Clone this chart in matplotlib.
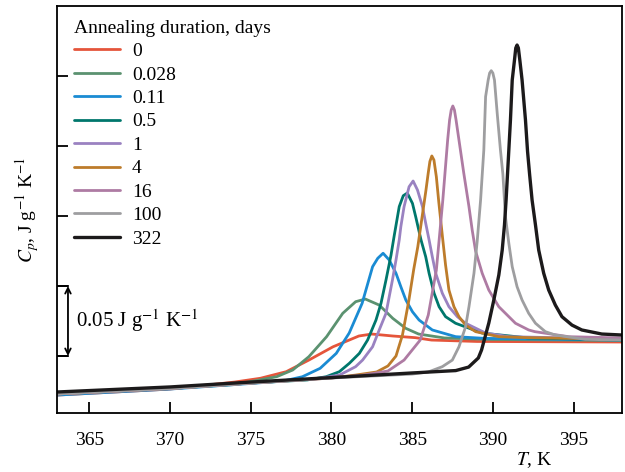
import matplotlib
matplotlib.use("Agg")
import matplotlib.pyplot as plt

plt.rcParams['font.family'] = ['Liberation Serif', 'DejaVu Serif']
plt.rcParams['mathtext.fontset'] = 'stix'

labels = ["0", "0.028", "0.11", "0.5", "1", "4", "16", "100", "322"]
colors = ["#e5553b", "#5b9270", "#1a8bd3", "#00776c", "#9a82c1", "#bd7c2b", "#ae7ba3", "#9e9ea0", "#1c1a1b"]

T_0 = [363, 370, 374, 375.6, 377.2, 378.6, 380.1, 381.1, 381.7, 382.5, 383.8, 385.2, 386.2, 389, 398]
C_0 = [0.0221, 0.0264, 0.0314, 0.0341, 0.0388, 0.0471, 0.0566, 0.0614, 0.0643, 0.0657, 0.0643, 0.0631, 0.0614, 0.0604, 0.0600]

T_0028 = [363, 370, 374, 376.6, 377.6, 378.6, 379.7, 380.7, 381.5, 382.1, 382.96, 383.8, 384.6, 385.4, 387.0, 390, 398]
C_0028 = [0.0229, 0.0268, 0.0296, 0.0352, 0.0400, 0.0495, 0.0638, 0.0805, 0.0888, 0.0907, 0.0864, 0.0769, 0.0698, 0.0657, 0.0629, 0.0618, 0.0611]

T_011 = [363, 370, 375, 377, 378.2, 379.3, 380.3, 381.1, 381.9, 382.55, 382.87, 383.2, 383.58, 384.0, 384.3, 384.61, 385.02, 385.43, 386.25, 387.7, 389.5, 398]
C_011 = [0.0221, 0.0264, 0.0304, 0.0321, 0.0352, 0.0412, 0.0519, 0.0664, 0.0876, 0.1138, 0.1198, 0.1234, 0.1186, 0.1091, 0.0995, 0.0900, 0.0816, 0.0757, 0.0686, 0.0638, 0.0626, 0.0614]

T_05 = [363, 370, 375, 378.5, 379.67, 380.49, 381.11, 381.73, 382.24, 382.76, 383.07, 383.38, 383.69, 383.89, 384.2, 384.45, 384.7, 385.02, 385.22, 385.55, 385.84, 386.05, 386.36, 386.67, 387.07, 387.69, 389.34, 392.2, 398]
C_05 = [0.0229, 0.0268, 0.0307, 0.0329, 0.0352, 0.0388, 0.0448, 0.0519, 0.0614, 0.0757, 0.0876, 0.1043, 0.1220, 0.1360, 0.1567, 0.1645, 0.1664, 0.1590, 0.1495, 0.1329, 0.1209, 0.1091, 0.0948, 0.0852, 0.0781, 0.0734, 0.0664, 0.0629, 0.0614]

T_1 = [363, 370, 375, 379, 380.5, 381.5, 381.93, 382.55, 382.96, 383.38, 383.78, 384.0, 384.2, 384.3, 384.5, 384.81, 385.06, 385.33, 385.64, 385.84, 386.05, 386.25, 386.46, 386.87, 387.28, 387.8, 388.31, 389.55, 391.0, 398]
C_1 = [0.0229, 0.0268, 0.0307, 0.0336, 0.0364, 0.0424, 0.0471, 0.0566, 0.0686, 0.0805, 0.1043, 0.1186, 0.1329, 0.1424, 0.1567, 0.1709, 0.1750, 0.1686, 0.1567, 0.1448, 0.1329, 0.1209, 0.1091, 0.0948, 0.0852, 0.0781, 0.0734, 0.0664, 0.0638, 0.0621]

T_4 = [363, 370, 375, 380, 381.5, 382.8, 383.5, 384.0, 384.4, 384.8, 385.1, 385.35, 385.6, 385.85, 386.0, 386.1, 386.22, 386.35, 386.5, 386.65, 386.87, 387.07, 387.28, 387.59, 387.9, 388.31, 388.93, 390.37, 392.22, 398]
C_4 = [0.0229, 0.0268, 0.0307, 0.0343, 0.0364, 0.0386, 0.0429, 0.0500, 0.0650, 0.0900, 0.1120, 0.1280, 0.1480, 0.1680, 0.1810, 0.1890, 0.1929, 0.1900, 0.1780, 0.1600, 0.1360, 0.1150, 0.0971, 0.0852, 0.0781, 0.0721, 0.0674, 0.0638, 0.0631, 0.0621]

T_16 = [363, 370, 375, 380, 382, 383.5, 384.5, 385.5, 386.0, 386.5, 386.9, 387.2, 387.32, 387.42, 387.52, 387.62, 387.72, 387.9, 388.2, 388.52, 388.72, 388.93, 389.34, 389.75, 390.37, 391.4, 392.22, 392.6, 394.7, 398]
C_16 = [0.0229, 0.0268, 0.0307, 0.0343, 0.0364, 0.0393, 0.0471, 0.0614, 0.0793, 0.1114, 0.1614, 0.2043, 0.2186, 0.2257, 0.2286, 0.2257, 0.2186, 0.2043, 0.1805, 0.1567, 0.1400, 0.1250, 0.1091, 0.0971, 0.0852, 0.0734, 0.0686, 0.0674, 0.0638, 0.0629]

T_100 = [363, 370, 375, 380, 385, 386.0, 386.87, 387.49, 387.9, 388.31, 388.52, 388.83, 389.03, 389.24, 389.44, 389.55, 389.71, 389.8, 389.9, 390.0, 390.1, 390.27, 390.47, 390.62, 390.78, 390.99, 391.2, 391.5, 391.81, 392.22, 392.64, 393.25, 393.87, 395.72, 398]
C_100 = [0.0229, 0.0268, 0.0307, 0.0343, 0.0371, 0.0386, 0.0424, 0.0471, 0.0566, 0.0709, 0.0852, 0.1091, 0.1320, 0.1614, 0.1971, 0.2352, 0.2471, 0.2521, 0.2538, 0.2521, 0.2471, 0.2233, 0.1971, 0.1800, 0.1495, 0.1305, 0.1138, 0.0995, 0.0900, 0.0805, 0.0734, 0.0674, 0.0650, 0.0619, 0.0614]

T_322 = [363, 370, 375, 380, 385, 387.7, 388.5, 389.1, 389.3, 389.75, 390.06, 390.37, 390.58, 390.72, 390.82, 390.97, 391.09, 391.2, 391.34, 391.42, 391.5, 391.58, 391.67, 391.81, 392.02, 392.15, 392.28, 392.43, 392.64, 392.84, 393.15, 393.46, 393.87, 394.28, 394.9, 395.51, 396.75, 398]
C_322 = [0.0243, 0.0279, 0.0314, 0.0346, 0.0379, 0.0396, 0.0421, 0.0486, 0.0543, 0.0736, 0.0900, 0.1079, 0.1257, 0.1436, 0.1614, 0.1930, 0.2186, 0.2471, 0.2614, 0.2700, 0.2721, 0.2700, 0.2614, 0.2471, 0.2186, 0.1960, 0.1793, 0.1614, 0.1436, 0.1257, 0.1091, 0.0971, 0.0864, 0.0781, 0.0721, 0.0686, 0.0657, 0.0650]

series = [(T_0, C_0), (T_0028, C_0028), (T_011, C_011), (T_05, C_05), (T_1, C_1),
          (T_4, C_4), (T_16, C_16), (T_100, C_100), (T_322, C_322)]

x_ticks = [365, 370, 375, 380, 385, 390, 395]
y_ticks = [0.05, 0.10, 0.15, 0.20, 0.25]

fig = plt.figure(figsize=(6.25, 4.72), dpi=100)
ax = fig.add_axes([0.0912, 0.125, 0.9040, 0.8623])

for (T, C), lab, col in zip(series, labels, colors):
    lw = 2.4 if lab == "322" else 2.0
    ax.plot(T, C, color=col, lw=lw, label=lab, solid_joinstyle='round', solid_capstyle='round')

ax.set_xlim(363, 398)
ax.set_ylim(0.0093, 0.30)
ax.set_xticks(x_ticks)
ax.set_yticks(y_ticks)
ax.set_yticklabels([])
ax.tick_params(direction='in', length=8, width=1.3, labelsize=14)
ax.tick_params(axis='x', pad=14)
for s in ax.spines.values():
    s.set_linewidth(1.3)

ax.set_ylabel(r"$C_p$, J g$^{-1}$ K$^{-1}$", fontsize=14)
ax.yaxis.set_label_coords(-0.0286, 0.5)
ax.text(0.845, -0.115, r"$T$, K", transform=ax.transAxes, fontsize=14, ha='center', va='center')

# scale bar
ax.annotate("", xy=(363.68, 0.05), xytext=(363.68, 0.10),
            arrowprops=dict(arrowstyle='<->', lw=1.3, color='black', shrinkA=0, shrinkB=0,
                            mutation_scale=10))
ax.plot([363, 363.68], [0.10, 0.10], color='black', lw=1.3)
ax.plot([363, 363.68], [0.05, 0.05], color='black', lw=1.3)
ax.text(364.2, 0.075, r"0.05 J g$^{-1}$ K$^{-1}$", fontsize=15, va='center', ha='left')

leg = ax.legend(title="Annealing duration, days", loc='upper left', frameon=False,
                fontsize=14, title_fontsize=14, handlelength=2.4, handletextpad=0.6,
                labelspacing=0.30, borderaxespad=0.2, bbox_to_anchor=(0.009, 0.995))
leg._legend_box.align = "left"

fig.savefig("out.png", dpi=100)
